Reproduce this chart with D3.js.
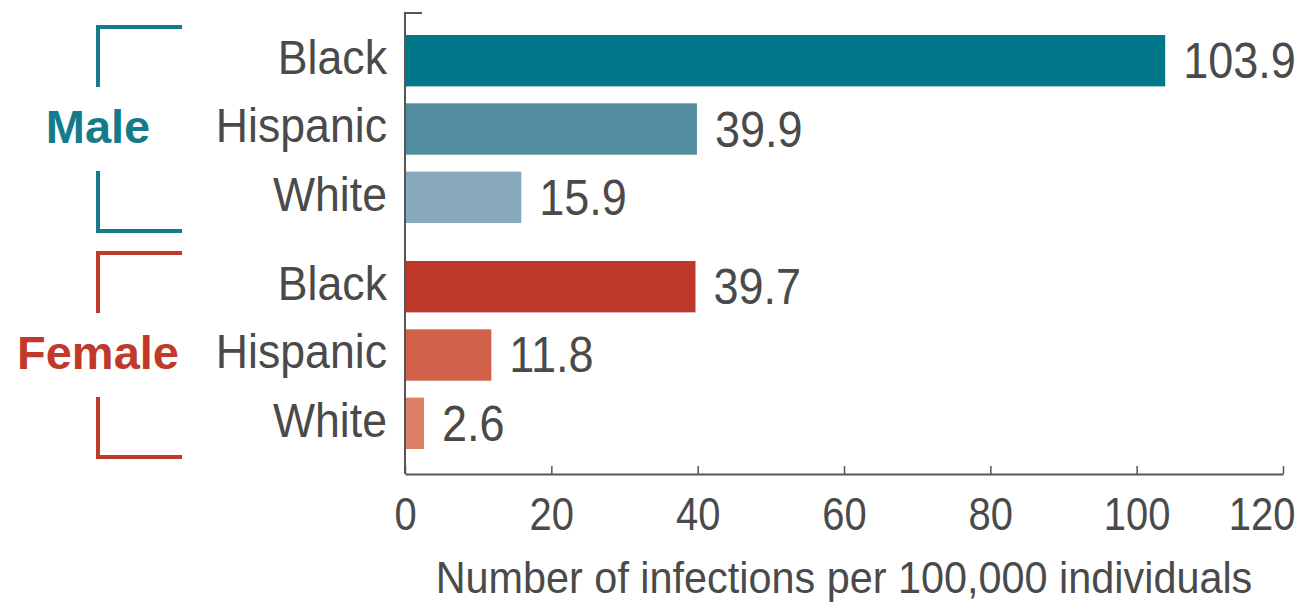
<!DOCTYPE html>
<html>
<head>
<meta charset="utf-8">
<script src="https://cdn.jsdelivr.net/npm/d3@7"></script>
<style>
  html, body { margin: 0; padding: 0; background: #fff; }
  svg { display: block; font-family: "Liberation Sans", Arial, Helvetica, sans-serif; }
</style>
</head>
<body>
<svg id="chart" width="1305" height="604"></svg>
<script>
// Infection rates per 100,000 individuals, by sex and race/ethnicity
const groups = ["Male", "Female"];
const races = ["Black", "Hispanic", "White"];
const maleValues = [103.9, 39.9, 15.9];
const femaleValues = [39.7, 11.8, 2.6];
const xTicks = [0, 20, 40, 60, 80, 100, 120];
const axisTitle = "Number of infections per 100,000 individuals";

const groupColors = { Male: "#137b8a", Female: "#c0392b" };
const barColors = {
  Male: ["#01778a", "#528c9f", "#88a9ba"],
  Female: ["#bd372a", "#d1614a", "#da7f66"]
};
const textColor = "#4a4a4a";
const axisColor = "#555";

const rows = [];
groups.forEach(g => {
  const vals = g === "Male" ? maleValues : femaleValues;
  races.forEach((r, i) => rows.push({ group: g, race: r, value: vals[i], color: barColors[g][i] }));
});

const svg = d3.select("#chart");

const x = d3.scaleLinear().domain([0, 120]).range([405, 1283]);
const yGroup = d3.scaleBand().domain(groups).range([35, 449]).paddingInner(0.168);
const yRace = d3.scaleBand().domain(races).range([0, yGroup.bandwidth()]).paddingInner(0.248);

// horizontally condensed text, anchored at (px, py)
function condensed(sel, px, py, k) {
  return sel.attr("transform", `translate(${px},${py}) scale(${k},1)`);
}

// bars
svg.append("g").selectAll("rect")
  .data(rows)
  .join("rect")
  .attr("x", x(0))
  .attr("y", d => yGroup(d.group) + yRace(d.race))
  .attr("width", d => x(d.value) - x(0))
  .attr("height", yRace.bandwidth())
  .attr("fill", d => d.color);

// value labels
svg.append("g").selectAll("text")
  .data(rows)
  .join("text")
  .each(function(d) {
    const cy = yGroup(d.group) + yRace(d.race) + yRace.bandwidth() / 2;
    condensed(d3.select(this), x(d.value) + 18, cy, 0.9);
  })
  .attr("dy", "0.35em")
  .attr("font-size", 50)
  .attr("fill", textColor)
  .text(d => d.value.toFixed(1));

// category labels
svg.append("g").selectAll("text")
  .data(rows)
  .join("text")
  .each(function(d) {
    const cy = yGroup(d.group) + yRace(d.race) + yRace.bandwidth() / 2;
    condensed(d3.select(this), 387, cy, 0.93);
  })
  .attr("dy", "0.28em")
  .attr("text-anchor", "end")
  .attr("font-size", 48)
  .attr("fill", textColor)
  .text(d => d.race);

// group brackets and labels
const bx = 98, bEnd = 182, arm = 60;
groups.forEach(g => {
  const top = yGroup(g) - 8;
  const bottom = yGroup(g) + yGroup.bandwidth() + 8;
  const gg = svg.append("g")
    .attr("fill", "none")
    .attr("stroke", groupColors[g])
    .attr("stroke-width", 4);
  gg.append("path").attr("d", `M${bEnd},${top}H${bx}V${top + arm}`);
  gg.append("path").attr("d", `M${bEnd},${bottom}H${bx}V${bottom - arm}`);
  svg.append("text")
    .attr("x", bx)
    .attr("y", yGroup(g) + yRace("Hispanic") + yRace.bandwidth() / 2)
    .attr("dy", "0.3em")
    .attr("text-anchor", "middle")
    .attr("font-size", 47)
    .attr("font-weight", "bold")
    .attr("fill", groupColors[g])
    .text(g);
});

// x axis
const axisY = 474;
const xAxis = svg.append("g")
  .attr("transform", `translate(0,${axisY})`)
  .call(d3.axisBottom(x).tickValues(xTicks).tickSize(-8).tickSizeOuter(0).tickFormat(d3.format("d")));
xAxis.select(".domain").attr("stroke", axisColor).attr("stroke-width", 2);
xAxis.selectAll(".tick line").attr("stroke", axisColor).attr("stroke-width", 1.5);
const lastTick = xTicks[xTicks.length - 1];
xAxis.selectAll(".tick text")
  .attr("y", 0).attr("dy", 0)
  .attr("font-size", 47)
  .attr("font-family", "Liberation Sans, Arial, sans-serif")
  .attr("fill", textColor)
  // the last label is kept inside the right edge
  .attr("text-anchor", d => d === lastTick ? "end" : "middle")
  .attr("transform", d => d === lastTick ? "translate(12,56) scale(0.85,1)" : "translate(0,56) scale(0.85,1)");

// y axis line with top cap
svg.append("path")
  .attr("d", `M${x(0) + 17},13H${x(0)}V${axisY}`)
  .attr("fill", "none")
  .attr("stroke", axisColor)
  .attr("stroke-width", 2);

// x axis title
condensed(svg.append("text"), (x.range()[0] + x.range()[1]) / 2, 593, 0.92)
  .attr("text-anchor", "middle")
  .attr("font-size", 45)
  .attr("fill", textColor)
  .text(axisTitle);
</script>
</body>
</html>
